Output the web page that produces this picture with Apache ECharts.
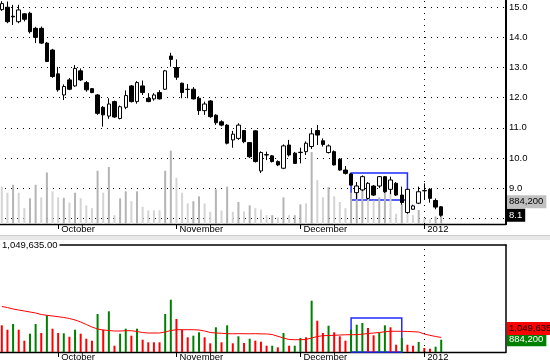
<!DOCTYPE html>
<html><head><meta charset="utf-8">
<script src="https://cdn.jsdelivr.net/npm/echarts@6/dist/echarts.min.js"></script>
<style>html,body{margin:0;padding:0;background:#fff}#c{width:550px;height:364px}</style>
</head><body><div id="c"></div>
<script>
const dates = [
'2011-09-19','2011-09-20','2011-09-21','2011-09-22','2011-09-23','2011-09-26','2011-09-27','2011-09-28','2011-09-29','2011-09-30',
'2011-10-03','2011-10-04','2011-10-05','2011-10-06','2011-10-07','2011-10-10','2011-10-11','2011-10-12','2011-10-13','2011-10-14',
'2011-10-17','2011-10-18','2011-10-19','2011-10-20','2011-10-21','2011-10-24','2011-10-25','2011-10-26','2011-10-27','2011-10-28',
'2011-10-31','2011-11-01','2011-11-02','2011-11-03','2011-11-04','2011-11-07','2011-11-08','2011-11-09','2011-11-10','2011-11-11',
'2011-11-14','2011-11-15','2011-11-16','2011-11-17','2011-11-18','2011-11-21','2011-11-22','2011-11-23','2011-11-24','2011-11-25',
'2011-11-28','2011-11-29','2011-11-30','2011-12-01','2011-12-02','2011-12-05','2011-12-06','2011-12-07','2011-12-08','2011-12-09',
'2011-12-12','2011-12-13','2011-12-14','2011-12-15','2011-12-16','2011-12-19','2011-12-20','2011-12-21','2011-12-22','2011-12-23',
'2011-12-26','2011-12-27','2011-12-28','2011-12-29','2011-12-30','2012-01-02','2012-01-03','2012-01-04','2012-01-05'];

const opens = [
14.92,15.00,14.70,14.52,14.78,14.80,14.30,14.30,13.81,13.58,
12.79,12.09,12.59,12.39,12.89,12.50,12.30,12.09,11.68,11.39,
11.87,11.31,11.68,12.39,11.87,12.39,11.98,11.96,12.17,12.28,
13.38,13.00,12.48,12.28,12.28,11.98,11.57,11.89,11.42,11.20,
11.09,10.60,10.65,10.91,10.51,10.90,9.57,10.11,10.07,9.88,
9.66,10.43,10.16,10.19,10.21,10.38,10.91,10.57,10.18,10.21,
9.96,9.60,9.47,8.85,8.94,8.66,9.07,9.07,9.38,8.96,
9.16,8.77,8.19,8.30,8.50,8.92,8.96,8.59,8.38];
const closes = [
15.12,14.52,14.68,14.91,14.60,14.19,14.00,13.81,13.20,12.70,
12.26,12.37,12.28,12.97,12.59,12.26,12.17,11.48,11.43,11.79,
11.36,11.70,12.07,11.87,12.50,12.17,11.87,12.09,11.96,12.89,
13.27,12.68,12.17,12.27,11.96,11.57,11.79,11.37,11.17,11.09,
10.49,10.79,11.09,10.54,10.04,9.88,10.18,10.10,9.88,9.77,
10.40,10.10,9.82,10.18,10.49,10.80,10.76,10.45,10.40,9.77,
9.60,9.49,9.10,9.07,9.38,9.16,8.77,9.38,8.88,9.27,
8.77,8.52,8.96,8.41,8.88,8.91,8.66,8.37,8.10];
const lows = [
14.88,14.47,14.41,14.47,14.53,14.13,13.81,13.78,13.18,12.66,
12.20,11.92,12.25,12.36,12.55,12.20,12.15,11.43,11.04,11.30,
11.33,11.28,11.62,11.84,11.80,12.09,11.85,11.90,11.94,12.26,
13.03,12.59,11.98,11.98,11.94,11.43,11.43,11.33,11.10,11.05,
10.45,10.34,10.60,10.49,10.00,9.85,9.50,9.93,9.85,9.73,
9.63,10.05,9.80,9.82,10.10,10.30,10.43,10.38,10.15,9.75,
9.58,9.45,9.08,8.63,8.90,8.62,8.74,9.00,8.84,8.80,
8.74,8.45,8.15,8.28,8.47,8.63,8.52,8.30,8.05];
const highs = [
15.20,15.19,15.08,15.08,14.80,14.85,14.35,14.36,13.85,13.62,
13.02,12.44,12.65,13.08,12.97,12.55,12.32,12.12,11.72,11.98,
11.90,11.74,12.24,12.42,12.55,12.57,12.15,12.15,12.25,12.92,
13.49,13.27,12.50,12.45,12.35,12.05,11.87,11.92,11.45,11.25,
11.12,10.90,11.15,10.93,10.53,10.92,10.22,10.21,10.10,9.92,
10.45,10.60,10.20,10.34,10.55,10.95,11.09,10.65,10.45,10.25,
10.00,9.73,9.50,9.20,9.42,9.20,9.10,9.40,9.40,9.38,
9.20,9.05,8.98,8.45,9.05,9.16,9.00,8.66,8.40];
const volumes = [
1921000,1605000,2015000,1605000,813000,1317000,2015000,1367000,2641000,1677000,
1367000,1346000,1101000,1605000,1317000,957000,813000,2735000,1605000,2929000,
453000,1317000,1677000,1173000,1677000,885000,698000,698000,698000,2735000,
3764000,2375000,1605000,1058000,1173000,1418000,1058000,626000,1778000,698000,
1921000,626000,1130000,648000,957000,813000,741000,453000,453000,338000,
1367000,453000,453000,1007000,1058000,3692000,2252000,1367000,1893000,1418000,
1130000,813000,1605000,1965000,2087000,1727000,1202000,1367000,1921000,1778000,
525000,1007000,525000,453000,720000,288000,237000,381000,884200];
const volumeUp = [
0,0,1,0,0,1,1,0,1,0,
0,1,0,1,0,0,0,1,0,1,
0,1,1,0,1,0,0,0,0,1,
1,0,0,0,1,1,0,0,1,0,
1,0,1,0,1,0,0,0,1,0,
1,0,1,1,0,1,0,0,1,0,
0,0,1,1,1,0,0,1,1,0,
0,1,0,0,1,0,0,1,1];
const volumeMA = [
3274000,3202000,3094000,3022000,2950000,2879000,2807000,2699000,2641000,2591000,
2540000,2483000,2411000,2303000,2159000,1979000,1799000,1655000,1583000,1547000,
1511000,1511000,1533000,1533000,1475000,1403000,1367000,1367000,1367000,1439000,
1547000,1605000,1605000,1605000,1605000,1583000,1511000,1403000,1367000,1346000,
1317000,1310000,1320000,1315000,1312000,1318000,1305000,1300000,1259000,1130000,
1007000,900000,885000,885000,900000,1007000,1115000,1173000,1187000,1202000,
1223000,1238000,1245000,1245000,1281000,1331000,1367000,1403000,1454000,1490000,
1490000,1490000,1475000,1461000,1439000,1295000,1202000,1115000,1049635];
const priceTicks = [8, 9, 10, 11, 12, 13, 14, 15];
// annotation boxes (data space)
const boxPrice = {from: 62, to: 72, hi: 9.50, lo: 8.61};
const boxVolume = {from: 62, to: 71, hi: 2447000, lo: 0};

const FONT = 'Liberation Sans, Arial, sans-serif';
const padNames = Array.from({length: 11}, (_, k) => 'pad' + k);
const axisCats = dates.concat(padNames);
const monthNames = ['January','February','March','April','May','June','July','August','September','October','November','December'];
const labelAt = {};
dates.forEach((d, i) => {
  if (i > 0 && d.slice(0, 7) !== dates[i - 1].slice(0, 7)) {
    const mo = +d.slice(5, 7);
    labelAt[i] = mo === 1 ? d.slice(0, 4) : monthNames[mo - 1];
  }
});
const yearIdx = Object.keys(labelAt).map(Number).find(i => labelAt[i].length === 4);
const last = dates.length - 1;
const fmt = v => v.toLocaleString('en-US');

function mkX(grid) {
  return {
    type: 'category', gridIndex: grid, data: axisCats, boundaryGap: true,
    axisLine: {show: true, onZero: false, lineStyle: {color: '#000', width: 1.3}},
    axisTick: {show: true, alignWithLabel: true, interval: i => i in labelAt, length: 5, lineStyle: {color: '#000'}},
    axisLabel: {show: true, interval: i => i in labelAt, formatter: (v, i) => labelAt[i] || '',
      align: 'left', margin: 0, padding: [0, 0, 0, 3], color: '#000', fontSize: 9.5, fontFamily: FONT},
    splitLine: {show: false}
  };
}
const dotted = {color: '#000', width: 1, type: [1, 5]};
const hiddenLine = {color: 'rgba(0,0,0,0)', width: 0};
const noSym = ['none', 'none'];
function tag(value, text, bg, fg, offsetY) {
  return {yAxis: value, lineStyle: hiddenLine,
    label: {show: true, position: 'end', distance: 1, offset: [0, offsetY], formatter: text,
      color: fg, backgroundColor: bg, padding: [2, 3, 1, 2], fontSize: 9.5, fontFamily: FONT, opacity: 1}};
}

const option = {
  animation: false,
  backgroundColor: '#fff',
  title: {text: fmt(volumeMA[last]) + '.00', left: 0, top: 240, padding: [0, 2, 0, 2],
    backgroundColor: '#fff', textStyle: {fontSize: 9.5, fontWeight: 'normal', color: '#000', fontFamily: FONT}},
  graphic: [
    {type: 'rect', left: 0, top: 235, shape: {width: 550, height: 5}, style: {fill: '#e8e8e8'}, z: -1},
    {type: 'line', shape: {x1: 0, y1: 235.5, x2: 550, y2: 235.5}, style: {stroke: '#cfcfcf', lineWidth: 1}, z: -1}
  ],
  grid: [
    {left: -1, top: 0, width: 507, height: 224, containLabel: false, outerBoundsMode: 'none'},
    {left: -1, top: 245, width: 507, height: 107, containLabel: false, outerBoundsMode: 'none'}
  ],
  xAxis: [
    mkX(0), mkX(1),
    {type: 'category', gridIndex: 1, position: 'top', data: axisCats,
      axisLine: {show: true, onZero: false, lineStyle: {color: '#000', width: 1.5}},
      axisTick: {show: false}, axisLabel: {show: false}, splitLine: {show: false}}
  ],
  yAxis: [
    {type: 'value', gridIndex: 0, position: 'right', min: 7.81, max: 15.24, splitNumber: 7,
      axisLine: {show: true, lineStyle: {color: '#000', width: 2}}, axisTick: {show: false},
      axisLabel: {color: '#000', fontSize: 9.5, fontFamily: FONT, margin: 3, showMinLabel: false, showMaxLabel: false,
        formatter: v => priceTicks.some(t => Math.abs(t - v) < 1e-6) ? v.toFixed(1) : ''},
      splitLine: {show: true, showMinLine: false, showMaxLine: false, lineStyle: dotted}},
    {type: 'value', gridIndex: 0, show: false, min: 0, max: 11500000, splitLine: {show: false}},
    {type: 'value', gridIndex: 1, position: 'right', min: 0, max: 7700000,
      axisLine: {show: true, lineStyle: {color: '#000', width: 1.5}}, axisTick: {show: false},
      axisLabel: {show: false}, splitLine: {show: false}}
  ],
  series: [
    {type: 'bar', name: 'volOverlay', xAxisIndex: 0, yAxisIndex: 1, barWidth: 2, z: 1, clip: false,
      data: volumes.map((v, i) => ({value: v, itemStyle: {color: volumeUp[i] ? '#b4b4b4' : '#d4d4d4'}})),
      silent: true,
      markLine: {symbol: noSym, silent: true, z: 10,
        data: [tag(volumes[last], fmt(volumes[last]), '#c0c0c0', '#000', -5)]}},
    {type: 'candlestick', name: 'price', xAxisIndex: 0, yAxisIndex: 0, barWidth: 4, z: 3, clip: false,
      data: dates.map((d, i) => [opens[i], closes[i], lows[i], highs[i]]),
      itemStyle: {color: '#fff', color0: '#000', borderColor: '#000', borderColor0: '#000', borderWidth: 1},
      markLine: {symbol: noSym, silent: true, z: 10, data: [
        {xAxis: dates[yearIdx], lineStyle: dotted, label: {show: false}},
        tag(closes[last], closes[last].toFixed(1), '#000', '#fff', 0)
      ]},
      markArea: {silent: true, itemStyle: {color: 'rgba(0,0,0,0)', borderColor: '#1f2bff', borderWidth: 1.5},
        data: [[{coord: [dates[boxPrice.from], boxPrice.hi]}, {coord: [dates[boxPrice.to], boxPrice.lo]}]]}},
    {type: 'bar', name: 'volume', xAxisIndex: 1, yAxisIndex: 2, barWidth: 2, z: 2, clip: false,
      data: volumes.map((v, i) => ({value: v, itemStyle: {color: volumeUp[i] ? '#008000' : '#ff0000'}})),
      markLine: {symbol: noSym, silent: true, z: 10, data: [
        {xAxis: dates[yearIdx], lineStyle: dotted, label: {show: false}},
        tag(volumes[last], fmt(volumes[last]), '#008000', '#fff', 0)
      ]}},
    {type: 'line', name: 'volumeMA', xAxisIndex: 1, yAxisIndex: 2, z: 4, data: volumeMA, clip: false,
      symbol: 'none', lineStyle: {color: '#ff0000', width: 1}, silent: true,
      markLine: {symbol: noSym, silent: true, z: 10,
        data: [tag(volumeMA[last], fmt(volumeMA[last]), '#ff0000', '#000', -9)]},
      markArea: {silent: true, itemStyle: {color: 'rgba(0,0,0,0)', borderColor: '#1f2bff', borderWidth: 1.5},
        data: [[{coord: [dates[boxVolume.from], boxVolume.hi]}, {coord: [dates[boxVolume.to], boxVolume.lo]}]]}}
  ]
};
const chart = echarts.init(document.getElementById('c'), null, {renderer: 'canvas'});
chart.setOption(option);
</script></body></html>
